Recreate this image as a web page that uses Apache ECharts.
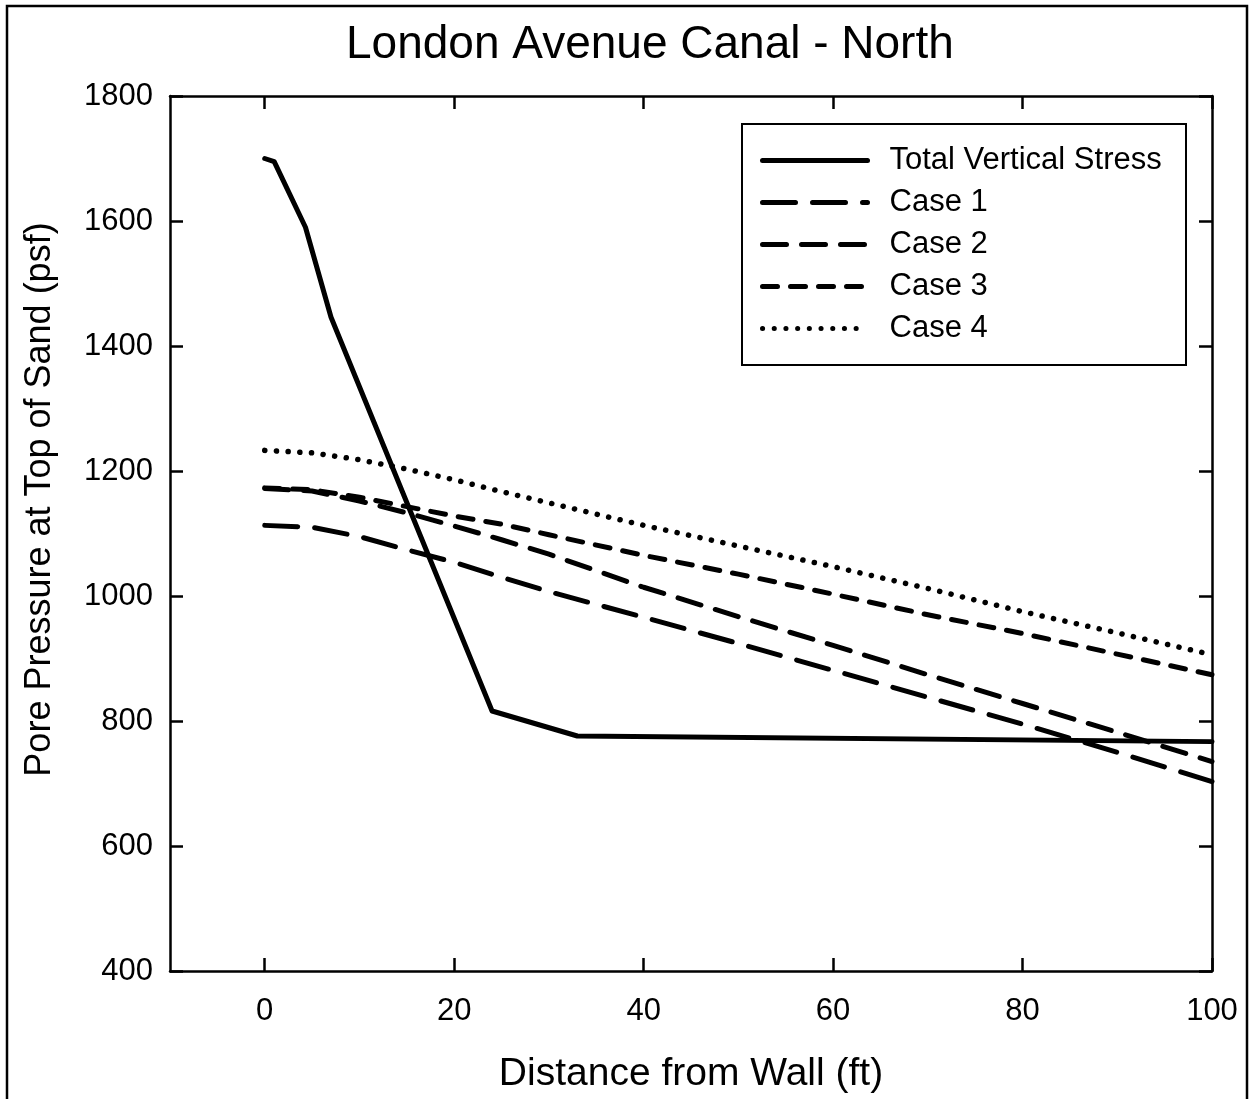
<!DOCTYPE html>
<html style="height: 100%">
<head>
    <meta charset="utf-8">
    <script type="text/javascript" src="https://cdn.jsdelivr.net/npm/echarts@6/dist/echarts.min.js"></script>
</head>
<body style="height: 100%; margin: 0; background: #fff">
    <div id="container" style="width: 1249px; height: 1099px"></div>
    <script type="text/javascript">
        // distance from wall (ft)
        var stressX = [0, 1, 4.3, 7, 24, 33, 100];
        var stressY = [1700, 1695, 1590, 1446, 816, 776, 767];
        var caseX = [0, 5, 10, 15, 20, 25, 30, 40, 50, 60, 70, 80, 90, 100];
        var case1 = [1113, 1110, 1095, 1074, 1054, 1030, 1007, 966, 924, 881, 838, 795, 750, 703];
        var case2 = [1172, 1168, 1152, 1133, 1112, 1090, 1067, 1014, 967, 921, 874, 828, 782, 735];
        var case3 = [1173, 1170, 1158, 1143, 1128, 1115, 1098, 1065, 1035, 1003, 970, 940, 907, 874];
        var case4 = [1233, 1229, 1218, 1203, 1186, 1167, 1149, 1113, 1080, 1047, 1012, 975, 941, 906];
        var xTicks = [0, 20, 40, 60, 80, 100];
        var font = 'Liberation Sans, Arial, sans-serif';

        function pairs(xs, ys) {
            return xs.map(function (x, i) { return [x, ys[i]]; });
        }

        function lineSeries(name, xs, ys, width, dash) {
            return {
                name: name,
                type: 'line',
                data: pairs(xs, ys),
                symbol: 'none',
                smooth: false,
                lineStyle: { color: '#000', width: width, type: dash, cap: 'round', join: 'round' },
                itemStyle: { color: '#000' }
            };
        }

        var chart = echarts.init(document.getElementById('container'), null, { renderer: 'canvas' });

        var xBase = {
            type: 'value', min: -10, max: 100,
            axisLine: { onZero: false, lineStyle: { color: '#000', width: 2.5 } },
            axisTick: { inside: true, length: 13, customValues: xTicks, lineStyle: { color: '#000', width: 2.5 } },
            splitLine: { show: false }
        };
        var yBase = {
            type: 'value', min: 400, max: 1800, interval: 200,
            axisLine: { onZero: false, lineStyle: { color: '#000', width: 2.5 } },
            axisTick: { inside: true, length: 13, lineStyle: { color: '#000', width: 2.5 } },
            splitLine: { show: false }
        };

        var option = {
            animation: false,
            backgroundColor: '#fff',
            title: {
                text: 'London Avenue Canal - North',
                left: 341, top: 17,
                textStyle: { fontFamily: font, fontSize: 46, fontWeight: 'normal', color: '#000' }
            },
            grid: { left: 170, right: 37, top: 96, bottom: 127 },
            legend: {
                orient: 'vertical',
                left: 755, top: 140,
                itemWidth: 105, itemHeight: 28, itemGap: 11,
                itemStyle: { opacity: 0 },
                lineStyle: { width: 5, cap: 'round' },
                textStyle: { fontFamily: font, fontSize: 31, color: '#000', padding: [0, 0, 0, 17] },
                data: ['Total Vertical Stress', 'Case 1', 'Case 2', 'Case 3', 'Case 4']
            },
            xAxis: [
                Object.assign({}, xBase, {
                    position: 'bottom',
                    name: 'Distance from Wall (ft)',
                    nameLocation: 'middle', nameGap: 84,
                    nameTextStyle: { fontFamily: font, fontSize: 39, color: '#000' },
                    axisLabel: { customValues: xTicks, margin: 25, fontFamily: font, fontSize: 31, color: '#000' }
                }),
                Object.assign({}, xBase, { position: 'top', axisLabel: { show: false } })
            ],
            yAxis: [
                Object.assign({}, yBase, {
                    position: 'left',
                    name: 'Pore Pressure at Top of Sand (psf)',
                    nameLocation: 'middle', nameGap: 112,
                    nameTextStyle: { fontFamily: font, fontSize: 36, color: '#000', padding: [0, 0, 0, 68] },
                    axisLabel: {
                        margin: 17, fontFamily: font, fontSize: 31, color: '#000',
                        formatter: function (v) { return String(v); }
                    }
                }),
                Object.assign({}, yBase, { position: 'right', axisLabel: { show: false } })
            ],
            graphic: [
                {
                    type: 'rect', z: 100,
                    shape: { x: 7, y: 6, width: 1240, height: 1110 },
                    style: { fill: null, stroke: '#000', lineWidth: 2.5 }
                },
                {
                    type: 'rect', z: 100,
                    shape: { x: 742, y: 124, width: 444, height: 241 },
                    style: { fill: null, stroke: '#000', lineWidth: 2 }
                }
            ],
            series: [
                lineSeries('Total Vertical Stress', stressX, stressY, 5, 'solid'),
                lineSeries('Case 1', caseX, case1, 5, [33, 17]),
                lineSeries('Case 2', caseX, case2, 5, [24, 15]),
                lineSeries('Case 3', caseX, case3, 5, [15, 13]),
                lineSeries('Case 4', caseX, case4, 5.5, [0.1, 11.6])
            ]
        };
        chart.setOption(option);
    </script>
</body>
</html>
